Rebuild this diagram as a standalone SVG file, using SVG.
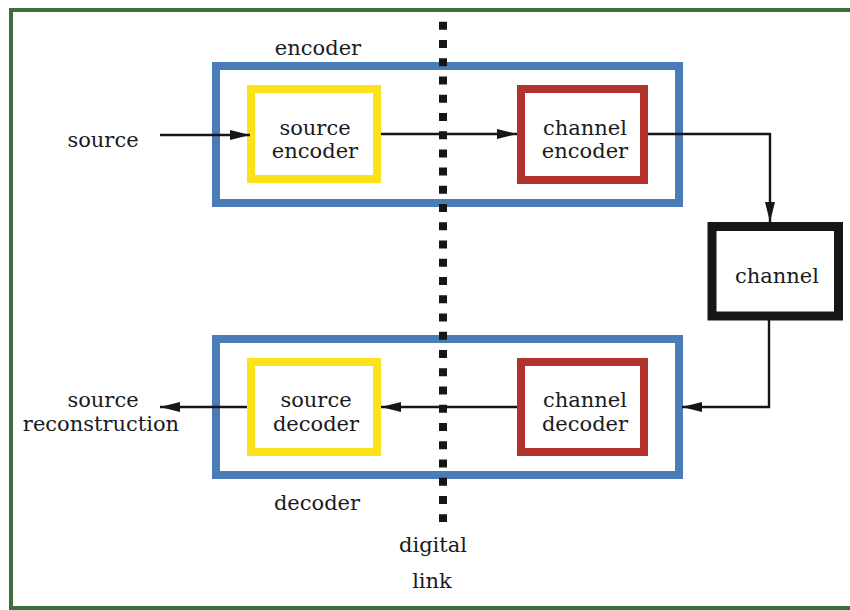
<svg xmlns="http://www.w3.org/2000/svg" width="850" height="610" viewBox="0 0 850 610">
<defs>
<style>
text{font-family:"DejaVu Serif","Liberation Serif",serif;font-size:21px;fill:#1a1a1e;text-anchor:middle}
.blue{fill:none;stroke:#4a7db8;stroke-width:8}
.yel{fill:#fff;stroke:#fbe21a;stroke-width:8}
.red{fill:#fff;stroke:#b2332b;stroke-width:8}
.blk{fill:#fff;stroke:#161616;stroke-width:9}
.ln{fill:none;stroke:#161616;stroke-width:2.4}
</style>
<marker id="ah" viewBox="0 0 20 10" refX="20" refY="5" markerWidth="20" markerHeight="10" markerUnits="userSpaceOnUse" orient="auto">
<path d="M0,0 L20,5 L0,10 Z" fill="#161616"/>
</marker>
</defs>
<rect x="0" y="0" width="850" height="610" fill="#fff"/>
<rect id="frame" x="11" y="10" width="850" height="598" fill="none" stroke="#3b6e3e" stroke-width="4"/>

<g id="encoder">
<rect class="blue" x="216" y="66" width="463" height="137"/>
<text x="318" y="55">encoder</text>
</g>
<g id="decoder">
<rect class="blue" x="216" y="339" width="463" height="136"/>
<text x="317" y="510">decoder</text>
</g>

<g id="source-encoder">
<rect class="yel" x="251" y="89" width="126" height="90"/>
<text x="315" y="135">source</text>
<text x="315" y="158">encoder</text>
</g>
<g id="channel-encoder">
<rect class="red" x="521" y="89" width="123" height="91"/>
<text x="585" y="135">channel</text>
<text x="585" y="158">encoder</text>
</g>
<g id="channel">
<rect class="blk" x="712" y="226.5" width="126.5" height="89.5"/>
<text x="777" y="283">channel</text>
</g>
<g id="channel-decoder">
<rect class="red" x="521" y="362" width="123" height="90"/>
<text x="585" y="407">channel</text>
<text x="585" y="431">decoder</text>
</g>
<g id="source-decoder">
<rect class="yel" x="251" y="362" width="126" height="90"/>
<text x="316" y="407">source</text>
<text x="316" y="431">decoder</text>
</g>

<g id="source">
<text x="103" y="147">source</text>
</g>
<g id="source-reconstruction">
<text x="103" y="407">source</text>
<text x="101" y="431">reconstruction</text>
</g>
<g id="digital-link">
<line x1="443" y1="21.7" x2="443" y2="522" stroke="#161616" stroke-width="8" stroke-dasharray="8 10.24"/>
<text x="433" y="552">digital</text>
<text x="432" y="588">link</text>
</g>

<g id="connectors">
<line class="ln" x1="160" y1="135" x2="250" y2="135" marker-end="url(#ah)"/>
<line class="ln" x1="381" y1="134" x2="517" y2="134" marker-end="url(#ah)"/>
<polyline class="ln" points="648,134 770,134 770,222" marker-end="url(#ah)"/>
<polyline class="ln" points="769,320 769,407 682,407" marker-end="url(#ah)"/>
<line class="ln" x1="517" y1="407" x2="381" y2="407" marker-end="url(#ah)"/>
<line class="ln" x1="247" y1="407" x2="160" y2="407" marker-end="url(#ah)"/>
</g>
</svg>
